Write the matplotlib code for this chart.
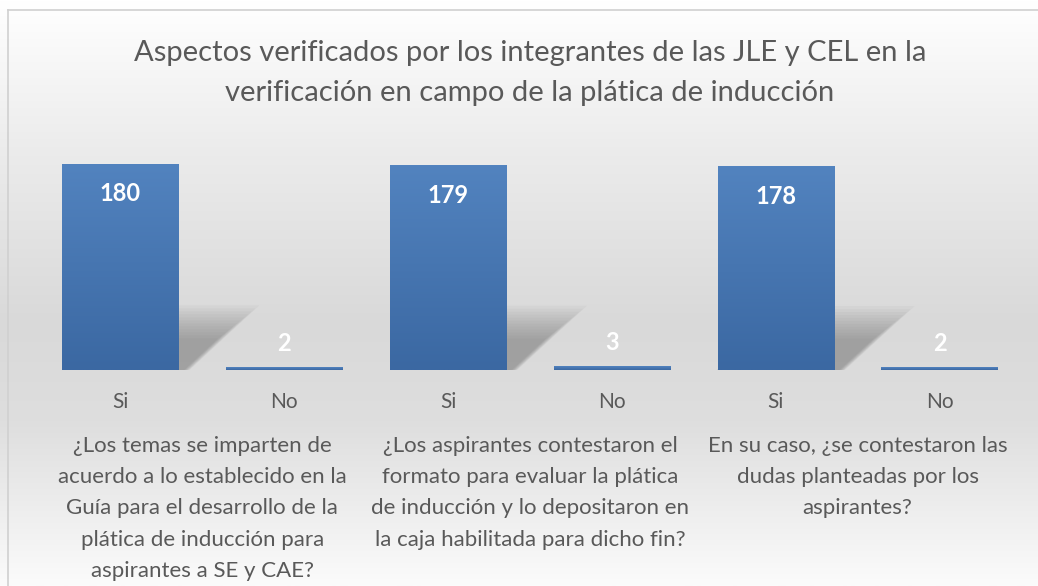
import matplotlib.pyplot as plt
from matplotlib.patches import Polygon
from matplotlib.colors import LinearSegmentedColormap
import numpy as np

plt.rcParams['font.family'] = ['Lato', 'DejaVu Sans']

# datos
respuestas = ["Si", "No", "Si", "No", "Si", "No"]
valores = [180, 2, 179, 3, 178, 2]
preguntas = [
    "¿Los temas se imparten de\nacuerdo a lo establecido en la\nGuía para el desarrollo de la\nplática de inducción para\naspirantes a SE y CAE?",
    "¿Los aspirantes contestaron el\nformato para evaluar la plática\nde inducción y lo depositaron en\nla caja habilitada para dicho fin?",
    "En su caso, ¿se contestaron las\ndudas planteadas por los\naspirantes?",
]
titulo = "Aspectos verificados por los integrantes de las JLE y CEL en la\nverificación en campo de la plática de inducción"

W, H = 1038, 586
fig = plt.figure(figsize=(W / 100, H / 100), dpi=100)

# fondo con degradado (blanco arriba, gris al centro, claro abajo)
bg = fig.add_axes([0, 0, 1, 1], zorder=-10)
bg.set_axis_off()
fondo = LinearSegmentedColormap.from_list(
    "fondo", [(0, "#ffffff"), (0.25, "#ececec"), (0.55, "#d9d9d9"), (0.72, "#dedede"), (1.0, "#fbfbfb")])
grad = np.linspace(0, 1, 256).reshape(-1, 1)
bg.imshow(grad, cmap=fondo, aspect='auto', extent=[0, W, H, 0])
bg.set_xlim(0, W)
bg.set_ylim(H, 0)
bg.plot([8, W], [10, 10], color="#d0d0d0", lw=1.2)
bg.plot([8, 8], [10, H], color="#d0d0d0", lw=1.2)

# ejes principales
x0, x1 = 38.5, 1021.5
ytop, ybase = 164, 370
ax = fig.add_axes([x0 / W, 1 - ybase / H, (x1 - x0) / W, (ybase - ytop) / H])
ax.set_facecolor("none")
for s in ax.spines.values():
    s.set_visible(False)
ax.set_yticks([])
ax.set_xticks([])

px = 180 / (ybase - ytop)  # unidades por pixel en y

azul = LinearSegmentedColormap.from_list("azul", ["#3b68a2", "#5283bf"])
ancho = 0.71
pos = np.arange(len(valores))
for x, v in zip(pos, valores):
    xl, xr = x - ancho / 2, x + ancho / 2
    # sombra difusa detrás de la barra
    if v > 20:
        for f in np.linspace(1.12, 0.55, 12):
            hs = 0.28 * v * f
            dx = 0.44 * f
            poly = Polygon([(xl, 0), (xr + 0.06 * f, 0), (xr + dx, hs), (xl + dx, hs)],
                           closed=True, color="#5a5a5a", alpha=0.045, lw=0, zorder=1)
            ax.add_patch(poly)
    # barra con degradado
    g = np.linspace(1, 0, 100).reshape(-1, 1)
    ax.imshow(g, cmap=azul, aspect='auto', extent=[xl, xr, 0, v], zorder=2)
    if v > 20:
        ax.annotate(str(v), (x, v), xytext=(0, -30 / 1.389), textcoords='offset points',
                    ha='center', va='center', color='white', fontsize=17, fontweight='bold')
    else:
        ax.annotate(str(v), (x, v), xytext=(0, 24 / 1.389), textcoords='offset points',
                    ha='center', va='center', color='white', fontsize=17, fontweight='bold')
    ax.text(x, -32 * px, respuestas[x], ha='center', va='center',
            color='#595959', fontsize=15)

ax.set_xlim(-0.5, 5.5)
ax.set_ylim(0, 180)

for i, q in enumerate(preguntas):
    xc = 2 * i + 0.5
    ax.text(xc, -(436 - ybase) * px, q, ha='center', va='top', color='#595959',
            fontsize=16, linespacing=1.7)

fig.text(530 / W, 1 - 73 / H, titulo, ha='center', va='center', color='#595959',
         fontsize=21, linespacing=1.62)

fig.savefig("out.png", dpi=100)
